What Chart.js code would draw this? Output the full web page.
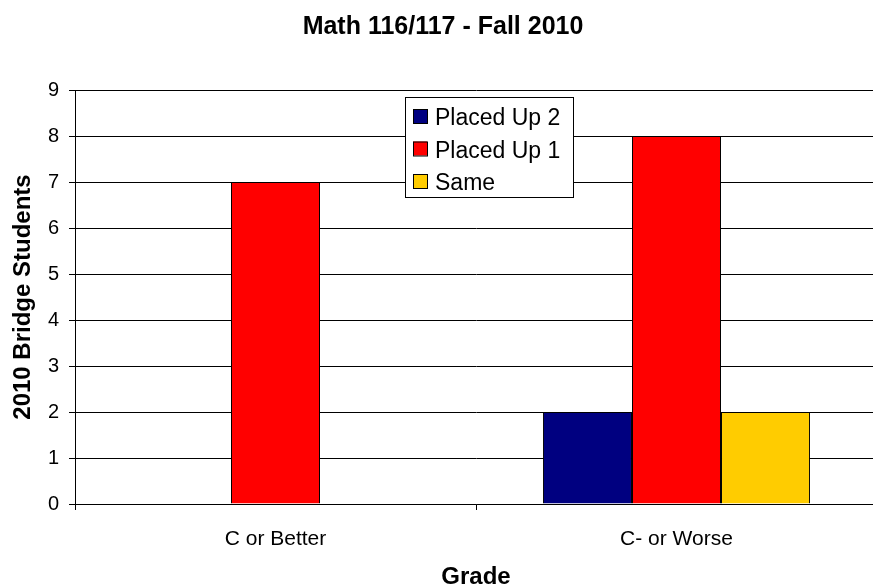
<!DOCTYPE html>
<html lang="en">
<head>
    <meta charset="UTF-8">
    <title>Math 116/117 - Fall 2010</title>
    <script src="https://cdn.jsdelivr.net/npm/chart.js"></script>
    <style>
        html, body { margin: 0; padding: 0; background: #fff; overflow: hidden; }
        #wrap { width: 877px; height: 588px; }
    </style>
</head>
<body>
    <div id="wrap"><canvas id="myChart"></canvas></div>

    <script>
        // Datos
        const grades = ['C or Better', 'C- or Worse'];
        const placedUp2 = [0, 2];
        const placedUp1 = [7, 8];
        const same = [0, 2];
        const seriesNames = ['Placed Up 2', 'Placed Up 1', 'Same'];
        const seriesColors = ['#000080', '#ff0000', '#ffcc00'];
        const yTicks = [0, 1, 2, 3, 4, 5, 6, 7, 8, 9];

        const font = "'Liberation Sans', Arial, sans-serif";

        // Leyenda dentro del area del grafico, como en Excel
        const boxLegend = {
            id: 'boxLegend',
            afterDraw(chart) {
                const ctx = chart.ctx;
                const x = 405, y = 97, w = 168, h = 100;
                ctx.save();
                ctx.fillStyle = '#fff';
                ctx.fillRect(x, y, w, h);
                ctx.strokeStyle = '#000';
                ctx.lineWidth = 1;
                ctx.strokeRect(x + 0.5, y + 0.5, w, h);
                ctx.font = '23px ' + font;
                ctx.textBaseline = 'middle';
                chart.data.datasets.forEach((ds, i) => {
                    const cy = y + 19 + i * 32.5;
                    ctx.fillStyle = ds.backgroundColor;
                    ctx.fillRect(x + 8, cy - 7, 14, 14);
                    ctx.strokeStyle = '#000';
                    ctx.strokeRect(x + 8.5, cy - 6.5, 14, 14);
                    ctx.fillStyle = '#000';
                    ctx.fillText(ds.label, x + 30, cy + 3);
                });
                ctx.restore();
            }
        };

        const ctx = document.getElementById('myChart').getContext('2d');
        const chart = new Chart(ctx, {
            type: 'bar',
            data: {
                labels: grades,
                datasets: [placedUp2, placedUp1, same].map((values, i) => ({
                    label: seriesNames[i],
                    data: values,
                    backgroundColor: seriesColors[i],
                    borderColor: '#000',
                    borderWidth: 1,
                    categoryPercentage: 0.666,
                    barPercentage: 1
                }))
            },
            options: {
                responsive: true,
                maintainAspectRatio: false,
                animation: false,
                layout: { padding: { top: 12, right: 0, bottom: 0, left: 9 } },
                plugins: {
                    legend: { display: false },
                    tooltip: { enabled: false },
                    title: {
                        display: true,
                        text: 'Math 116/117 - Fall 2010',
                        color: '#000',
                        font: { family: font, size: 25, weight: 'bold' },
                        padding: { top: 0, bottom: 48 }
                    }
                },
                scales: {
                    x: {
                        afterFit: axis => { axis.height = 84; },
                        grid: {
                            offset: true,
                            drawOnChartArea: false,
                            drawTicks: true,
                            tickLength: 6,
                            color: '#000'
                        },
                        border: { color: '#000', width: 1 },
                        ticks: {
                            color: '#000',
                            font: { family: font, size: 21 },
                            padding: 17
                        },
                        title: {
                            display: true,
                            text: 'Grade',
                            color: '#000',
                            font: { family: font, size: 24, weight: 'bold' },
                            padding: { top: 0, bottom: -4 }
                        }
                    },
                    y: {
                        min: yTicks[0],
                        max: yTicks[yTicks.length - 1],
                        afterBuildTicks: axis => { axis.ticks = yTicks.map(v => ({ value: v })); },
                        afterFit: axis => { axis.width = 66; },
                        grid: {
                            color: '#000',
                            tickLength: 6
                        },
                        border: { color: '#000', width: 1 },
                        ticks: {
                            color: '#000',
                            font: { family: font, size: 20 },
                            padding: 10
                        },
                        title: {
                            display: true,
                            text: '2010 Bridge Students',
                            color: '#000',
                            font: { family: font, size: 24, weight: 'bold' },
                            padding: { top: 0, bottom: 0 }
                        }
                    }
                }
            },
            plugins: [boxLegend]
        });
    </script>
</body>
</html>
